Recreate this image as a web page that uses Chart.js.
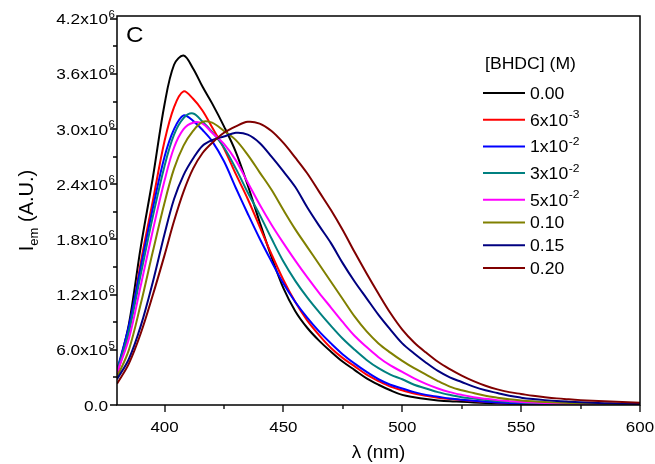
<!DOCTYPE html>
<html>
<head>
<meta charset="utf-8">
<script src="https://cdn.jsdelivr.net/npm/chart.js@4.4.0/dist/chart.umd.min.js"></script>
<style>
    html, body { margin: 0; padding: 0; background: #fff; }
    canvas { display: block; }
</style>
</head>
<body>
<canvas id="emissionChart" width="655" height="464"></canvas>
<script>
// Longitudes de onda (nm)
const wavelengths = [380, 385, 390, 395, 400, 404, 408, 412, 416,
    420, 425, 430, 435, 440, 445, 450, 455, 460, 465, 470, 475, 480, 485, 490, 495,
    500, 505, 510, 515, 520, 525, 530, 535, 540, 545, 550, 555, 560, 565, 570, 575,
    580, 585, 590, 595, 600];

// Intensidad de emision (x10^6 A.U.) para cada [BHDC]
const bhdc000 = [0.35, 0.88, 1.72, 2.46, 3.27, 3.7, 3.8, 3.66, 3.46,
    3.28, 3.03, 2.75, 2.39, 1.99, 1.61, 1.27, 1.02, 0.84, 0.7, 0.58, 0.47, 0.38, 0.29, 0.22, 0.16,
    0.11, 0.085, 0.065, 0.05, 0.04, 0.035, 0.028, 0.022, 0.018, 0.014, 0.012, 0.01, 0.008, 0.007, 0.006, 0.005,
    0.004, 0.004, 0.003, 0.003, 0.003];
const bhdc006 = [0.33, 0.8, 1.55, 2.21, 2.87, 3.24, 3.41, 3.33, 3.2,
    3.02, 2.79, 2.51, 2.24, 1.94, 1.64, 1.36, 1.12, 0.92, 0.76, 0.62, 0.51, 0.42, 0.33, 0.26, 0.2,
    0.16, 0.125, 0.1, 0.08, 0.065, 0.054, 0.044, 0.035, 0.028, 0.022, 0.017, 0.014, 0.012, 0.01, 0.009, 0.008,
    0.007, 0.006, 0.005, 0.005, 0.004];
const bhdc010 = [0.38, 0.86, 1.5, 2.13, 2.7, 3.0, 3.15, 3.09, 2.99,
    2.87, 2.65, 2.36, 2.08, 1.81, 1.56, 1.32, 1.12, 0.95, 0.8, 0.67, 0.55, 0.45, 0.36, 0.28, 0.22,
    0.18, 0.14, 0.11, 0.09, 0.07, 0.056, 0.045, 0.036, 0.028, 0.022, 0.017, 0.014, 0.011, 0.01, 0.008, 0.007,
    0.006, 0.005, 0.005, 0.004, 0.004];
const bhdc030 = [0.37, 0.8, 1.42, 2.04, 2.6, 2.94, 3.12, 3.17, 3.08,
    2.97, 2.8, 2.57, 2.31, 2.07, 1.81, 1.56, 1.35, 1.17, 1.01, 0.86, 0.72, 0.6, 0.49, 0.4, 0.33,
    0.28, 0.22, 0.18, 0.14, 0.11, 0.085, 0.07, 0.055, 0.043, 0.034, 0.026, 0.021, 0.017, 0.014, 0.012, 0.01,
    0.009, 0.008, 0.007, 0.006, 0.005];
const bhdc050 = [0.35, 0.72, 1.3, 1.89, 2.44, 2.8, 3.0, 3.07, 3.06,
    2.96, 2.84, 2.66, 2.42, 2.18, 1.96, 1.76, 1.57, 1.39, 1.22, 1.06, 0.9, 0.75, 0.63, 0.52, 0.43,
    0.36, 0.29, 0.23, 0.18, 0.14, 0.11, 0.085, 0.068, 0.053, 0.042, 0.033, 0.026, 0.021, 0.017, 0.014, 0.012,
    0.01, 0.009, 0.008, 0.007, 0.006];
const bhdc100 = [0.3, 0.6, 1.1, 1.66, 2.2, 2.57, 2.82, 2.98, 3.08,
    3.07, 2.98, 2.88, 2.72, 2.53, 2.34, 2.12, 1.91, 1.72, 1.53, 1.34, 1.15, 0.96, 0.8, 0.67, 0.57,
    0.48, 0.4, 0.33, 0.26, 0.2, 0.16, 0.13, 0.1, 0.08, 0.063, 0.05, 0.04, 0.032, 0.026, 0.021, 0.017,
    0.014, 0.011, 0.009, 0.008, 0.007];
const bhdc150 = [0.28, 0.5, 0.86, 1.33, 1.86, 2.24, 2.5, 2.68, 2.82,
    2.88, 2.92, 2.96, 2.94, 2.85, 2.7, 2.54, 2.37, 2.15, 1.95, 1.76, 1.54, 1.34, 1.16, 0.98, 0.82,
    0.67, 0.56, 0.46, 0.37, 0.3, 0.25, 0.2, 0.16, 0.13, 0.1, 0.08, 0.065, 0.053, 0.043, 0.036, 0.03,
    0.025, 0.02, 0.016, 0.013, 0.011];
const bhdc200 = [0.23, 0.45, 0.78, 1.19, 1.63, 2.0, 2.32, 2.57, 2.74,
    2.85, 2.96, 3.03, 3.08, 3.06, 2.98, 2.85, 2.69, 2.52, 2.32, 2.12, 1.9, 1.66, 1.43, 1.21, 1.0,
    0.82, 0.68, 0.57, 0.47, 0.39, 0.32, 0.26, 0.21, 0.17, 0.14, 0.12, 0.1, 0.085, 0.072, 0.062, 0.053,
    0.046, 0.04, 0.034, 0.029, 0.025];

const series = [bhdc000, bhdc006, bhdc010, bhdc030, bhdc050, bhdc100, bhdc150, bhdc200];
const seriesColors = ['#000000', '#ff0000', '#0000ff', '#008080', '#ff00ff', '#808000', '#000080', '#800000'];

// Leyenda: base y exponente
const legendBase = ['0.00', '6x10', '1x10', '3x10', '5x10', '0.10', '0.15', '0.20'];
const legendExp = ['', '-3', '-2', '-2', '-2', '', '', ''];

// Marcas de los ejes
const xMajorTicks = [400, 450, 500, 550, 600];
const xMinorTicks = [425, 475, 525, 575];
const yMajorTicks = [0, 0.6, 1.2, 1.8, 2.4, 3.0, 3.6, 4.2];
const yMinorTicks = [0.3, 0.9, 1.5, 2.1, 2.7, 3.3, 3.9];
const yTickBase = ['0.0', '6.0x10', '1.2x10', '1.8x10', '2.4x10', '3.0x10', '3.6x10', '4.2x10'];
const yTickExp = ['', '5', '6', '6', '6', '6', '6', '6'];

const FONT = '"Liberation Sans", Arial, sans-serif';

// Texto con estiramiento horizontal
function textoAncho(ctx, str, x, y, size, align, sx) {
    ctx.save();
    ctx.font = size + 'px ' + FONT;
    ctx.translate(x, y);
    ctx.scale(sx, 1);
    ctx.textAlign = align;
    ctx.textBaseline = 'alphabetic';
    ctx.fillText(str, 0, 0);
    ctx.restore();
}

function anchoDe(ctx, str, size, sx) {
    ctx.font = size + 'px ' + FONT;
    return ctx.measureText(str).width * sx;
}

// Base + superindice, alineado a la izquierda
function textoSup(ctx, base, exp, x, y, size, expSize, sx) {
    textoAncho(ctx, base, x, y, size, 'left', sx);
    if (exp) {
        textoAncho(ctx, exp, x + anchoDe(ctx, base, size, sx) + 0.5, y - size * 0.45, expSize, 'left', sx);
    }
}

const marcoPlugin = {
    id: 'marco',
    afterDraw(chart) {
        const { ctx, chartArea: a, scales: { x, y } } = chart;
        ctx.save();
        ctx.fillStyle = '#000';
        ctx.strokeStyle = '#000';

        // Marco
        ctx.lineWidth = 1.5;
        ctx.strokeRect(a.left, a.top, a.right - a.left, a.bottom - a.top);

        // Marcas
        ctx.lineWidth = 1.3;
        ctx.beginPath();
        xMajorTicks.forEach(v => {
            const px = Math.round(x.getPixelForValue(v));
            ctx.moveTo(px, a.bottom); ctx.lineTo(px, a.bottom + 7);
        });
        xMinorTicks.forEach(v => {
            const px = Math.round(x.getPixelForValue(v));
            ctx.moveTo(px, a.bottom); ctx.lineTo(px, a.bottom + 4);
        });
        yMajorTicks.forEach(v => {
            const py = Math.round(y.getPixelForValue(v));
            ctx.moveTo(a.left, py); ctx.lineTo(a.left - 7, py);
        });
        yMinorTicks.forEach(v => {
            const py = Math.round(y.getPixelForValue(v));
            ctx.moveTo(a.left, py); ctx.lineTo(a.left - 4, py);
        });
        ctx.stroke();

        // Etiquetas eje X
        xMajorTicks.forEach(v => {
            textoAncho(ctx, String(v), x.getPixelForValue(v), a.bottom + 27, 15, 'center', 1.13);
        });

        // Etiquetas eje Y
        yMajorTicks.forEach((v, i) => {
            const py = y.getPixelForValue(v);
            const w = anchoDe(ctx, yTickBase[i], 15, 1.15);
            textoSup(ctx, yTickBase[i], yTickExp[i], a.left - 9 - w, py + 5.5, 15, 10, 1.15);
        });

        // Titulo eje X
        textoAncho(ctx, 'λ (nm)', (a.left + a.right) / 2, 458, 18, 'center', 1.05);

        // Titulo eje Y con subindice
        ctx.save();
        ctx.translate(33, (a.top + a.bottom) / 2);
        ctx.rotate(-Math.PI / 2);
        const wI = anchoDe(ctx, 'I', 20, 1);
        const wEm = anchoDe(ctx, 'em', 13, 1);
        const wRest = anchoDe(ctx, ' (A.U.)', 20, 1);
        let sx0 = -(wI + wEm + wRest) / 2;
        textoAncho(ctx, 'I', sx0, 0, 20, 'left', 1);
        textoAncho(ctx, 'em', sx0 + wI, 5, 13, 'left', 1);
        textoAncho(ctx, ' (A.U.)', sx0 + wI + wEm, 0, 20, 'left', 1);
        ctx.restore();

        // Letra del panel
        textoAncho(ctx, 'C', a.left + 9, a.top + 26, 22, 'left', 1.1);

        // Leyenda
        textoAncho(ctx, '[BHDC] (M)', 485, 69, 16, 'left', 1.1);
        let rowY = 93;
        legendBase.forEach((base, i) => {
            if (i > 0) rowY += legendExp[i] ? 26.7 : 22.7;
            ctx.strokeStyle = seriesColors[i];
            ctx.lineWidth = 2;
            ctx.beginPath();
            ctx.moveTo(483, rowY); ctx.lineTo(525, rowY);
            ctx.stroke();
            textoSup(ctx, base, legendExp[i], 530, rowY + 5.8, 16, 11, 1.1);
        });

        ctx.restore();
    }
};

const datasets = series.map((vals, i) => ({
    label: legendBase[i] + legendExp[i],
    data: wavelengths.map((w, j) => ({ x: w, y: vals[j] })),
    borderColor: seriesColors[i],
    borderWidth: 2,
    pointRadius: 0,
    fill: false,
    tension: 0.35,
    order: series.length - 1 - i
}));

const ctx = document.getElementById('emissionChart').getContext('2d');
const emissionChart = new Chart(ctx, {
    type: 'line',
    data: { datasets: datasets },
    options: {
        responsive: false,
        animation: false,
        layout: { padding: { left: 0, top: 16, right: 15, bottom: 0 } },
        plugins: {
            legend: { display: false },
            tooltip: { enabled: false }
        },
        scales: {
            x: {
                type: 'linear',
                min: 380,
                max: 600,
                ticks: { display: false, stepSize: 25 },
                grid: { display: false },
                border: { display: false },
                afterFit(scale) { scale.height = 59; }
            },
            y: {
                min: 0,
                max: 4.23,
                ticks: { display: false, stepSize: 0.3 },
                grid: { display: false },
                border: { display: false },
                afterFit(scale) { scale.width = 117; }
            }
        }
    },
    plugins: [marcoPlugin]
});
</script>
</body>
</html>
